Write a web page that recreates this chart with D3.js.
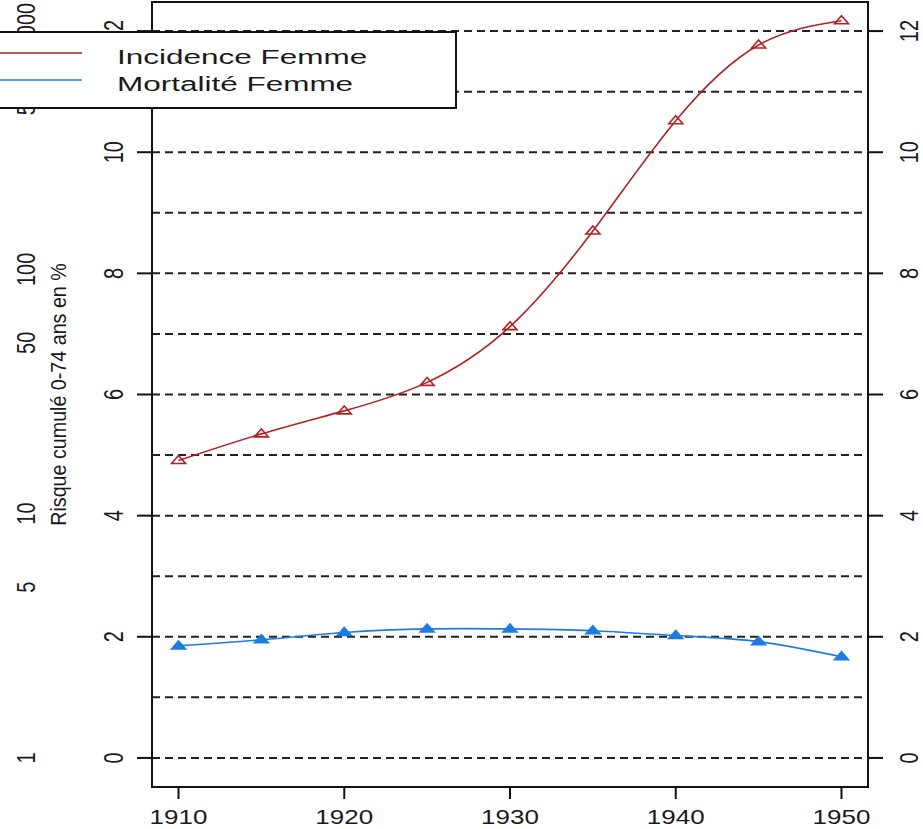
<!DOCTYPE html>
<html>
<head>
<meta charset="UTF-8">
<title>Risque cumulé</title>
<script src="https://d3js.org/d3.v7.min.js"></script>
<style>
  body { margin: 0; background: white; }
  text { font-family: "Liberation Sans", Arial, sans-serif; fill: #1a1a1a; }
  .grid { stroke: #222; stroke-width: 2; stroke-dasharray: 8,5; }
  .frame { fill: none; stroke: #111; stroke-width: 2; }
  .tick { stroke: #111; stroke-width: 2; }
</style>
</head>
<body>
<script>
  // data
  var years = [1910, 1915, 1920, 1925, 1930, 1935, 1940, 1945, 1950];
  var incidence = [4.91, 5.35, 5.73, 6.20, 7.12, 8.70, 10.52, 11.77, 12.17];
  var mortalite = [1.85, 1.95, 2.07, 2.13, 2.13, 2.10, 2.02, 1.92, 1.67];
  var seriesNames = ["Incidence Femme", "Mortalité Femme"];
  var seriesColors = ["#B22222", "#1C7CE0"];
  var xTicks = [1910, 1920, 1930, 1940, 1950];
  var yTicks = [0, 2, 4, 6, 8, 10, 12];
  var gridLevels = [0, 1, 2, 3, 4, 5, 6, 7, 8, 9, 10, 11, 12];
  var logTicks = [1, 5, 10, 50, 100, 500, 1000];
  var yTitle = "Risque cumulé 0-74 ans en %";

  var W = 923, H = 829;
  var svg = d3.select("body").append("svg").attr("width", W).attr("height", H);

  var x = d3.scaleLinear().domain([1908.4, 1951.6]).range([152, 868]);
  var y = d3.scaleLinear().domain([-0.48, 12.48]).range([787, 2]);
  // outer log axis shares the plot, one decade ~ 4.03 units
  var yLog = d3.scaleLog().domain([1, 1000]).range([y(0), y(12.1)]);

  // horizontal dashed lines
  svg.append("g").selectAll("line").data(gridLevels).enter().append("line")
    .attr("class", "grid")
    .attr("x1", x.range()[0]).attr("x2", x.range()[1])
    .attr("y1", function (d) { return y(d); }).attr("y2", function (d) { return y(d); });

  // series
  var line = d3.line()
    .x(function (d) { return x(d[0]); })
    .y(function (d) { return y(d[1]); })
    .curve(d3.curveNatural);

  var series = [incidence, mortalite].map(function (vals) {
    return years.map(function (yr, i) { return [yr, vals[i]]; });
  });

  function tri(cx, cy) {
    return "M" + (cx - 7) + "," + (cy + 3) + " L" + (cx + 7) + "," + (cy + 3) + " L" + cx + "," + (cy - 5) + " Z";
  }

  series.forEach(function (pts, k) {
    svg.append("path").datum(pts)
      .attr("d", line)
      .attr("fill", "none")
      .attr("stroke", seriesColors[k])
      .attr("stroke-width", 1.6);
    svg.append("g").selectAll("path").data(pts).enter().append("path")
      .attr("d", function (d) { return tri(x(d[0]), y(d[1])); })
      .attr("fill", k === 0 ? "none" : seriesColors[k])
      .attr("stroke", seriesColors[k])
      .attr("stroke-width", 1.6);
  });

  // frame
  svg.append("rect").attr("class", "frame")
    .attr("x", x.range()[0]).attr("y", y.range()[1])
    .attr("width", x.range()[1] - x.range()[0])
    .attr("height", y.range()[0] - y.range()[1]);

  // rotated text helper
  function rotText(px, py, txt, size, stretch) {
    svg.append("text")
      .attr("transform", "translate(" + px + "," + py + ") rotate(-90) scale(1," + stretch + ")")
      .attr("text-anchor", "middle")
      .attr("dominant-baseline", "central")
      .style("font-size", size + "px")
      .text(txt);
  }

  // left inner axis
  yTicks.forEach(function (v) {
    svg.append("line").attr("class", "tick")
      .attr("x1", 137).attr("x2", 152).attr("y1", y(v)).attr("y2", y(v));
    rotText(113, y(v), v, 20, 1.35);
  });

  // right axis
  yTicks.forEach(function (v) {
    svg.append("line").attr("class", "tick")
      .attr("x1", 868).attr("x2", 883).attr("y1", y(v)).attr("y2", y(v));
    rotText(909, y(v), v, 20, 1.3);
  });

  // outer log labels
  logTicks.forEach(function (v) {
    rotText(26, yLog(v), v, 20, 1.3);
  });

  // axis title
  rotText(58, (y.range()[0] + y.range()[1]) / 2, yTitle, 19.7, 1.1);

  // bottom axis
  xTicks.forEach(function (v) {
    svg.append("line").attr("class", "tick")
      .attr("x1", x(v)).attr("x2", x(v)).attr("y1", 787).attr("y2", 799);
    svg.append("text")
      .attr("transform", "translate(" + x(v) + ",817) scale(1.3,1)")
      .attr("text-anchor", "middle")
      .attr("dominant-baseline", "central")
      .style("font-size", "20px")
      .text(v);
  });

  // legend
  var leg = svg.append("g");
  leg.append("rect")
    .attr("x", -20).attr("y", 32).attr("width", 476).attr("height", 76)
    .attr("fill", "white").attr("stroke", "#111").attr("stroke-width", 2);
  seriesNames.forEach(function (name, i) {
    var ly = 53 + i * 27;
    leg.append("line")
      .attr("x1", -20).attr("x2", 82).attr("y1", ly).attr("y2", ly)
      .attr("stroke", seriesColors[i]).attr("stroke-width", 1.6);
    leg.append("text")
      .attr("transform", "translate(117," + (ly + 4) + ") scale(1.5,1)")
      .attr("dominant-baseline", "central")
      .style("font-size", "21px")
      .text(name);
  });
</script>
</body>
</html>
